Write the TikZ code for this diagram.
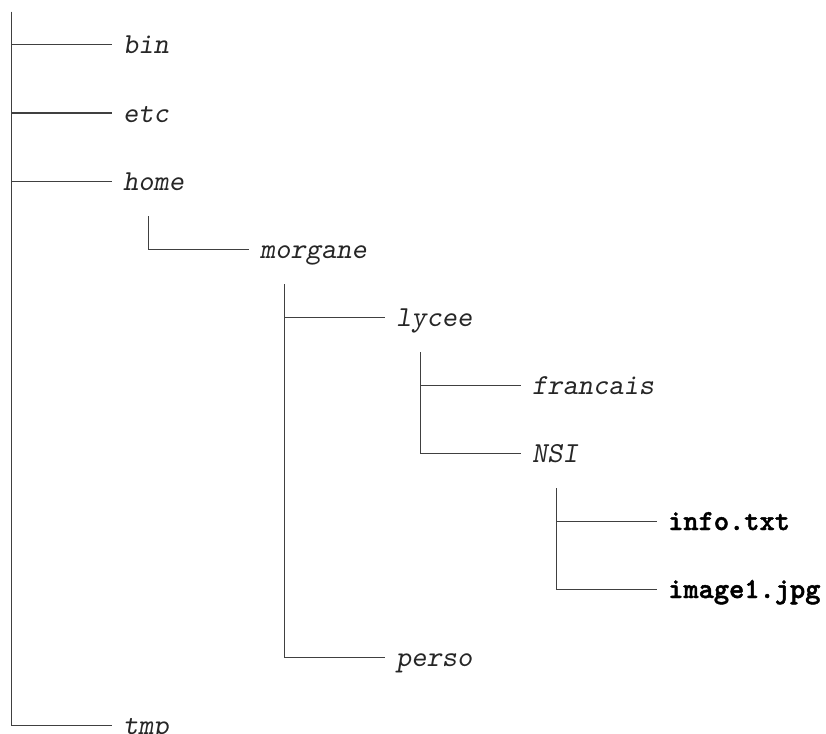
\documentclass[tikz,border=0pt]{standalone}
\usepackage{fontspec}
\newfontfamily\boldtt[FakeBold=1.6]{lmmonolt10-bold.otf}
\begin{document}
\begin{tikzpicture}[x=1pt,y=-1pt,
  conn/.style={draw=black!75, line width=1pt, shorten >=11pt},
  lbl/.style={anchor=west, inner sep=0pt, text height=18pt, text depth=0pt,
    font=\fontsize{29}{29}\selectfont\ttfamily\slshape, text=black!85},
  file/.style={lbl, font=\fontsize{29}{29}\selectfont\boldtt, text=black}]
\useasboundingbox (0,0) rectangle (826,733);
% vertical tops
\coordinate (rootTop) at (11,12);
\coordinate (homeTop) at (148,216);
\coordinate (morganeTop) at (284,284);
\coordinate (lyceeTop) at (420,352);
\coordinate (nsiTop) at (556,488);
% labels
\node[lbl] (bin) at (123,45) {bin};
\node[lbl] (etc) at (123,113) {etc};
\node[lbl] (home) at (123,181) {home};
\node[lbl] (morgane) at (260,249) {morgane};
\node[lbl] (lycee) at (396,317) {lycee};
\node[lbl] (francais) at (532,385) {francais};
\node[lbl] (nsi) at (532,453) {NSI};
\node[file] (info) at (668,521) {info.txt};
\node[file] (image) at (668,589) {image1.jpg};
\node[lbl] (perso) at (396,657) {perso};
\node[lbl] (tmp) at (123,725) {tmp};
% connectors
\draw[conn] (rootTop) |- (bin.west);
\draw[conn] (rootTop) |- (etc.west);
\draw[conn] (rootTop) |- (home.west);
\draw[conn] (rootTop) |- (tmp.west);
\draw[conn] (homeTop) |- (morgane.west);
\draw[conn] (morganeTop) |- (lycee.west);
\draw[conn] (morganeTop) |- (perso.west);
\draw[conn] (lyceeTop) |- (francais.west);
\draw[conn] (lyceeTop) |- (nsi.west);
\draw[conn] (nsiTop) |- (info.west);
\draw[conn] (nsiTop) |- (image.west);
\end{tikzpicture}
\end{document}
